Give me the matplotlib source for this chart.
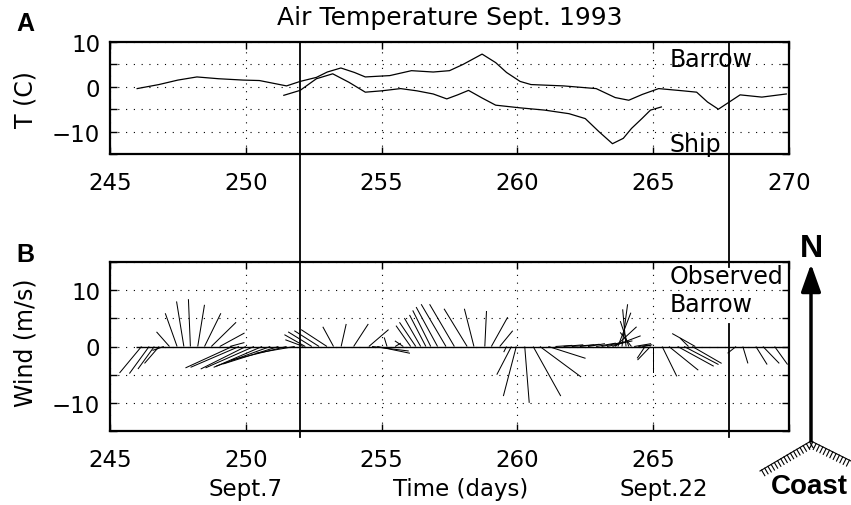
import matplotlib
matplotlib.use('Agg')
import matplotlib.pyplot as plt
from matplotlib.lines import Line2D
from matplotlib.patches import FancyArrowPatch
from matplotlib import patheffects
from matplotlib.transforms import blended_transform_factory

# Panel A: air temperature (C) vs day of year
barrow_day = [246.0, 246.8, 247.5, 248.2, 249.0, 249.9, 250.5, 251.0, 251.5, 252.0,
              252.6, 253.0, 253.5, 254.0, 254.4, 255.3, 256.1, 256.9, 257.5, 258.0,
              258.7, 259.2, 259.6, 260.1, 260.5, 261.7, 262.9, 263.6, 264.1, 264.6,
              265.2, 266.1, 266.6, 267.0, 267.4, 267.8, 268.2, 269.0, 269.9]
barrow_temp = [-0.4, 0.5, 1.5, 2.2, 1.8, 1.5, 1.4, 0.8, 0.2, 1.2,
               2.1, 3.3, 4.2, 3.2, 2.2, 2.5, 3.6, 3.3, 3.6, 5.0,
               7.3, 5.4, 3.2, 1.2, 0.5, 0.2, -0.4, -2.4, -3.0, -1.7,
               -0.4, -0.9, -1.2, -3.4, -5.0, -3.4, -1.8, -2.3, -1.6]

ship_day = [251.4, 252.0, 252.6, 253.2, 253.8, 254.4, 255.0, 255.7, 256.3, 256.9,
            257.4, 257.8, 258.2, 258.7, 259.2, 260.1, 261.0, 261.9, 262.5, 263.0,
            263.5, 263.9, 264.2, 264.6, 264.9, 265.3]
ship_temp = [-1.9, -0.8, 1.8, 2.9, 1.0, -1.2, -0.9, -0.4, -0.9, -1.6,
             -2.7, -1.8, -0.8, -2.5, -4.1, -4.7, -5.2, -6.0, -7.1, -10.0,
             -12.7, -11.5, -9.3, -7.0, -5.2, -4.5]

# Panel B: observed Barrow wind sticks (u east, v north, m/s)
wind_day = [246.16, 246.44, 246.63, 246.81, 246.98,
            247.19, 247.47, 247.72, 247.96, 248.23, 248.48, 248.73, 249.04, 249.41,
            249.5, 249.75, 250.0, 250.3, 250.6, 250.9, 251.2, 251.5, 251.8,
            252.12, 252.19, 252.43, 252.7, 252.99, 253.23, 253.51, 253.97, 254.53,
            254.65, 254.84, 255.2, 255.5, 255.8,
            256.07, 256.26, 256.44, 256.63, 256.81, 257.06, 257.37, 257.68, 258.15,
            258.4, 258.8, 259.04, 259.35,
            259.6, 259.78, 259.96, 260.27, 260.58, 260.83, 261.14,
            261.4, 261.7, 262.0, 262.3, 262.6, 262.9, 263.1, 263.3,
            263.5, 263.6, 263.7, 263.85, 264.0, 264.1, 264.2, 264.3, 264.45, 264.6,
            264.7, 264.9,
            265.0, 265.33, 265.58, 265.9, 266.14, 266.3, 266.44, 266.55,
            268.05, 268.3, 268.78, 269.04, 269.47]
wind_u = [-3.9, -3.5, -2.9, -2.6, -2.0,
          -2.3, -2.1, -1.3, -0.35, 1.2, 2.9, 4.4, 4.4, 2.6,
          -8.3, -8.6, -8.0, -8.6, -8.6, -9.6, -9.8, -9.8, -6.9,
          -3.2, -3.7, -4.2, -4.4, -4.6, -1.9, 0.9, 2.6, 3.5,
          6.5, 5.8, -0.5, 1.0, -1.5,
          -2.6, -2.9, -2.9, -2.9, -3.2, -3.8, -4.4, -4.4, -4.1,
          -1.7, 0.3, 2.9, 2.3,
          -0.5, -2.6, -2.3, 0.8, 4.9, 7.3, 6.6,
          3.0, 3.5, 4.0, 3.5, 3.0, 3.5, 4.0, 4.5,
          5.0, 3.8, 2.3, 1.0, -0.6, -1.5, -2.0, 3.0, 2.5, 1.5,
          -1.4, -2.3,
          0.0, 2.6, 5.2, 6.4, 6.1, -1.5, 5.2, -4.1,
          -1.5, 0.9, 2.0, 2.9, 2.3]
wind_v = [-4.7, -4.8, -4.0, -3.0, -0.7,
          2.6, 5.9, 8.0, 8.4, 7.4, 5.9, 4.3, 2.4, 0.7,
          -3.8, -3.7, -4.0, -3.8, -3.7, -3.5, -3.1, -2.4, -1.2,
          1.2, 2.1, 2.6, 2.8, 3.0, 3.5, 4.0, 4.0, 3.0,
          -0.8, -1.2, 1.6, 0.6, 1.0,
          3.7, 4.3, 5.05, 5.6, 6.4, 7.0, 7.5, 7.5, 6.7,
          6.7, 6.3, 5.2, 2.8,
          -1.0, -5.0, -8.8, -10.0, -8.8, -5.4, -2.1,
          0.2, 0.3, 0.3, 0.4, 0.5, 0.6, 0.8, 1.0,
          1.9, 3.5, 6.0, 7.5, 6.6, 4.5, 2.5, 0.5, 0.3, 0.2,
          -2.1, -2.4,
          -4.7, -5.3, -4.2, -3.5, -3.2, 1.5, -3.0, 2.3,
          -1.2, -3.0, -3.2, -3.0, -3.2]

marker_days = [252.0, 267.8]

xticks = [245, 250, 255, 260, 265, 270]
a_xlabels = ['245', '250', '255', '260', '265', '270']
b_xlabels = ['245', '250', '255', '260', '265', '']
a_yticks = [-15, -10, -5, 0, 5, 10]
a_ylabels = ['', '\u221210', '', '0', '', '10']
b_yticks = [-15, -10, -5, 0, 5, 10, 15]
b_ylabels = ['', '\u221210', '', '0', '', '10', '']

W, H = 851, 506
fig = plt.figure(figsize=(W / 100, H / 100), dpi=100)
axA = fig.add_axes([110 / W, 1 - 155 / H, 679 / W, 112 / H])
axB = fig.add_axes([110 / W, 1 - 432 / H, 679 / W, 169 / H])


def style(ax, yticks, ylabels, xlabels, ylim):
    ax.set_xlim(245, 270)
    ax.set_ylim(*ylim)
    ax.set_xticks(xticks)
    ax.set_xticklabels(xlabels)
    ax.set_yticks(yticks)
    ax.set_yticklabels(ylabels)
    ax.grid(True, linestyle=(0, (1, 6)), color='k', linewidth=0.8)
    ax.tick_params(direction='in', length=5, width=1, top=True, right=True,
                   labelsize=16.5, colors='k')
    ax.tick_params(axis='x', pad=12)
    ax.tick_params(axis='y', pad=7)
    for s in ax.spines.values():
        s.set_linewidth(1.6)


style(axA, a_yticks, a_ylabels, a_xlabels, (-15, 10))
style(axB, b_yticks, b_ylabels, b_xlabels, (-15, 15))

# A: temperatures
axA.plot(barrow_day, barrow_temp, color='k', lw=0.9)
axA.plot(ship_day, ship_temp, color='k', lw=0.9)
axA.text(265.6, -14.3, 'Ship', fontsize=17, ha='left', va='baseline')
axA.text(265.6, 4.7, 'Barrow', fontsize=17, ha='left', va='baseline')

# B: wind stick plot
axB.hlines(0, 245.95, 270, color='k', lw=1.0)
axB.quiver(wind_day, [0] * len(wind_day), wind_u, wind_v,
           angles='uv', scale_units='y', scale=1, pivot='tail',
           width=0.0015, headwidth=0, headlength=0, headaxislength=0,
           minlength=0, color='k', zorder=3)
axB.text(265.6, 11.3, 'Observed', fontsize=17, ha='left', va='baseline')
axB.text(265.6, 6.3, 'Barrow', fontsize=17, ha='left', va='baseline')

tB = blended_transform_factory(axB.transData, axB.transAxes)
axB.text(250, -0.34, 'Sept.7', transform=tB, fontsize=16.5, ha='center', va='center')
axB.text(257.9, -0.34, 'Time (days)', transform=tB, fontsize=16.5, ha='center', va='center')
axB.text(265.4, -0.34, 'Sept.22', transform=tB, fontsize=16.5, ha='center', va='center')

# titles / axis labels
fig.text(450 / W, 1 - 18 / H, 'Air Temperature Sept. 1993', fontsize=18,
         ha='center', va='center')
fig.text(26 / W, 1 - 100 / H, 'T (C)', fontsize=17, rotation=90,
         ha='center', va='center')
fig.text(26 / W, 1 - 343 / H, 'Wind (m/s)', fontsize=17, rotation=90,
         ha='center', va='center')
fig.text(25 / W, 1 - 24 / H, 'A', fontsize=18, fontweight='bold',
         family='Liberation Sans', ha='center', va='center')
fig.text(25 / W, 1 - 255 / H, 'B', fontsize=18, fontweight='bold',
         family='Liberation Sans', ha='center', va='center')

# vertical marker lines across both panels
tv = blended_transform_factory(axB.transData, fig.transFigure)
fig.add_artist(Line2D([marker_days[0]] * 2, [1 - 43 / H, 1 - 438 / H],
                      transform=tv, color='k', lw=1.3))
fig.add_artist(Line2D([marker_days[1]] * 2, [1 - 43 / H, 1 - 268 / H],
                      transform=tv, color='k', lw=1.3))
fig.add_artist(Line2D([marker_days[1]] * 2, [1 - 325 / H, 1 - 438 / H],
                      transform=tv, color='k', lw=1.3))

# north arrow and coast
fig.add_artist(FancyArrowPatch((811 / W, 1 - 442 / H), (811 / W, 1 - 265 / H),
                               transform=fig.transFigure,
                               arrowstyle='-|>,head_length=1.4,head_width=0.5',
                               mutation_scale=12, lw=2.5, color='k',
                               shrinkA=0, shrinkB=0))
fig.text(811 / W, 1 - 249 / H, 'N', fontsize=23, fontweight='bold',
         family='Liberation Sans', ha='center', va='center')
fig.add_artist(Line2D([851 / W, 811 / W, 760 / W],
                      [1 - 462 / H, 1 - 442 / H, 1 - 472 / H],
                      transform=fig.transFigure, color='k', lw=0.8,
                      path_effects=[patheffects.withTickedStroke(angle=90, spacing=2.6, length=1.8)]))
fig.text(809 / W, 1 - 487 / H, 'Coast', fontsize=20, fontweight='bold',
         family='Liberation Sans', ha='center', va='center')

fig.savefig('out.png', dpi=100)
